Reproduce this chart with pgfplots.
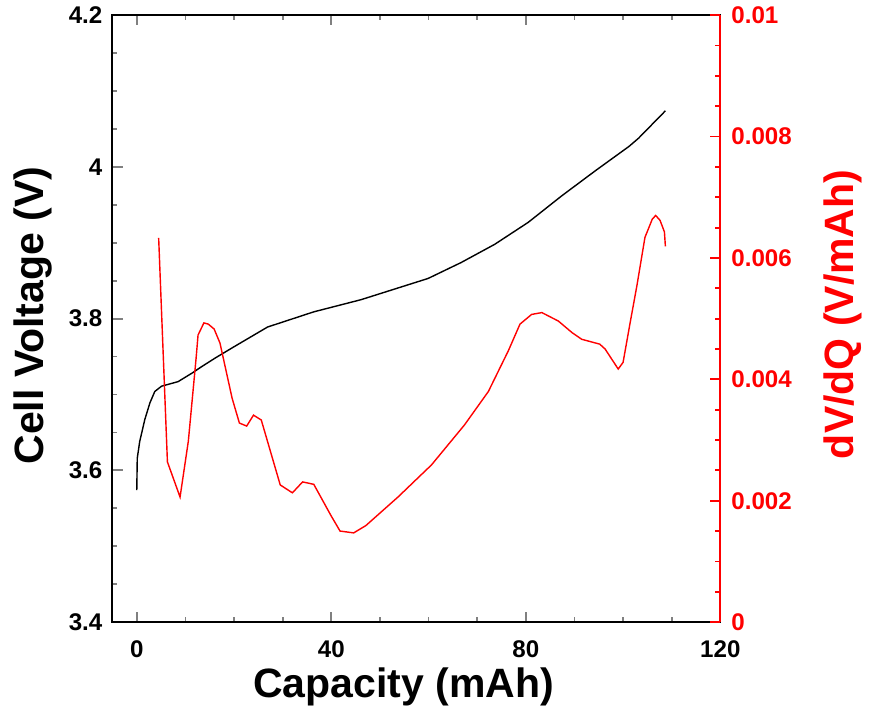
\documentclass[border=0pt]{standalone}
\usepackage{fontspec}
\setmainfont{Liberation Sans}
\usepackage{pgfplots}
\pgfplotsset{compat=1.18}
\begin{document}
\begin{tikzpicture}
\pgfplotsset{every axis/.append style={
  scale only axis, width=302.5pt, height=302pt, xmin=-5, xmax=120,
  /pgf/number format/assume math mode=true,
  tick label style={font=\fontsize{12}{14}\selectfont\bfseries},
  label style={font=\fontsize{20.4}{24}\selectfont\bfseries},
  major tick length=5pt, minor tick length=2.5pt, tick align=inside,
  axis line style={line width=1pt},
  every tick/.append style={line width=0.9pt},
}}
\begin{axis}[
  ymin=3.4, ymax=4.2, ytick={3.4,3.6,3.8,4,4.2}, minor y tick num=3,
  xtick={0,40,80,120}, minor x tick num=3, ytick pos=left,
  xlabel={Capacity (mAh)}, ylabel={Cell Voltage (V)},
  xlabel style={at={(axis description cs:0.479,-0.124)}, anchor=base, inner sep=0.5pt},
  ylabel style={at={(axis description cs:-0.113,0.505)}, anchor=base, inner sep=7pt},
  xticklabel style={yshift=-5.5pt},
  yticklabel style={xshift=-1.5pt},
]
\addplot[black, line width=0.7pt] coordinates {
(0,3.574) (0.06,3.600) (0.1,3.616) (0.6,3.638) (1.65,3.667) (2.7,3.689)
(3.7,3.704) (5.1,3.711) (8.5,3.717) (11.3,3.728) (13.4,3.737) (16.1,3.748)
(20,3.763) (26.9,3.789) (36.4,3.809) (46.1,3.825) (53.0,3.839) (59.9,3.853)
(66.7,3.874) (73.6,3.898) (80.5,3.927) (87.4,3.962) (94.3,3.995)
(101.2,4.027) (103.2,4.038) (108.7,4.074)};
\end{axis}
\begin{axis}[
  ymin=0, ymax=0.01, axis y line*=right, axis x line=none,
  ytick={0,0.002,0.004,0.006,0.008,0.01}, minor y tick num=3,
  scaled y ticks=false,
  yticklabel style={/pgf/number format/fixed, /pgf/number format/precision=3, red, xshift=2pt},
  y axis line style={red, line width=1pt, -},
  ytick style={red},
  ylabel={dV/dQ (V/mAh)},
  ylabel style={red, at={(axis description cs:1.219,0.507)}, anchor=base, inner sep=3.5pt},
]
\addplot[red, line width=0.7pt] coordinates {
(4.5,0.00633) (6.3,0.00264) (8.9,0.00206) (10.6,0.00298) (12.2,0.00435)
(12.6,0.00473) (13.8,0.00493) (14.7,0.00491) (15.9,0.00483) (17.1,0.00460)
(19.6,0.00369) (21.1,0.00328) (22.6,0.00323) (24.0,0.00341) (25.6,0.00333)
(29.5,0.00226) (32.0,0.00213) (34.1,0.00231) (36.4,0.00227) (39.9,0.00176)
(41.8,0.00150) (44.6,0.00147) (47.1,0.00159) (53.7,0.00206) (60.6,0.00259)
(67.4,0.00325) (72.3,0.00380) (76.4,0.00447) (78.8,0.00491) (81.2,0.00507)
(83.3,0.00510) (86.7,0.00496) (89.5,0.00477) (91.5,0.00466) (95.2,0.00458)
(96.3,0.00450) (99.0,0.00417) (100.0,0.00428) (101.4,0.00491) (102.9,0.00557)
(104.5,0.00634) (106.0,0.00664) (106.7,0.00670) (107.6,0.00662) (108.5,0.00643)
(108.7,0.00619)};
\end{axis}
\end{tikzpicture}
\end{document}
